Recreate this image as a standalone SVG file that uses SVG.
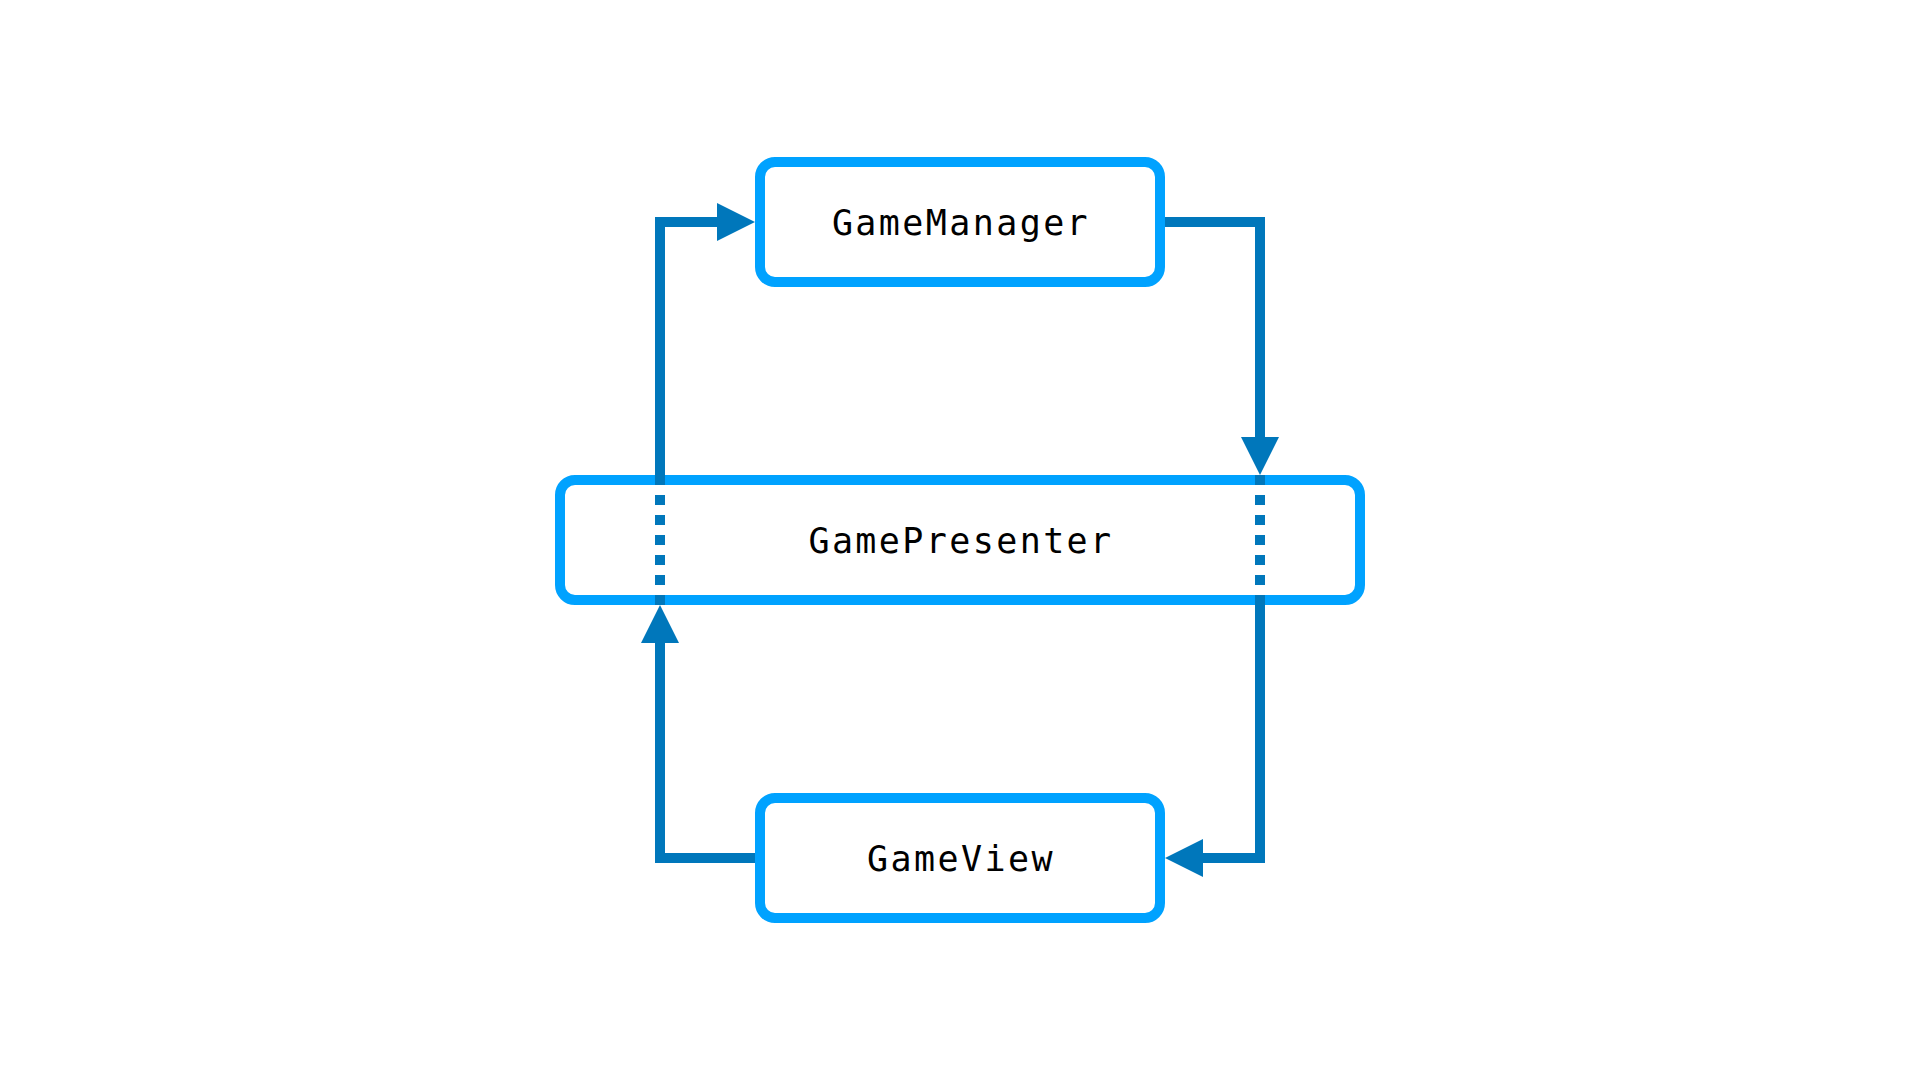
<svg xmlns="http://www.w3.org/2000/svg" width="1920" height="1080" viewBox="0 0 1920 1080">
  <style>
    .box { fill: #FFFFFF; stroke: #00A2FF; stroke-width: 10; }
    .label { font-family: "DejaVu Sans Mono", "Liberation Mono", monospace; font-size: 35px; letter-spacing: 2.4px; fill: #000000; text-anchor: middle; }
    .conn { fill: none; stroke: #0077BB; stroke-width: 10; stroke-linejoin: miter; stroke-linecap: butt; }
    .dots { fill: none; stroke: #0077BB; stroke-width: 10; stroke-dasharray: 10 10; }
  </style>
  <defs>
    <marker id="arrow" markerUnits="userSpaceOnUse" markerWidth="38" markerHeight="38" refX="0" refY="19" orient="auto" viewBox="0 0 38 38" overflow="visible">
      <path d="M0,0 L38,19 L0,38 Z" fill="#0077BB"/>
    </marker>
  </defs>
  <rect width="1920" height="1080" fill="#FFFFFF"/>

  <g id="GameManager">
    <rect class="box" x="760" y="162" width="400" height="120" rx="15" ry="15"/>
    <text class="label" x="961" y="234.8">GameManager</text>
  </g>
  <g id="GamePresenter">
    <rect class="box" x="560" y="480" width="800" height="120" rx="15" ry="15"/>
    <text class="label" x="961" y="552.8">GamePresenter</text>
  </g>
  <g id="GameView">
    <rect class="box" x="760" y="798" width="400" height="120" rx="15" ry="15"/>
    <text class="label" x="961" y="870.8">GameView</text>
  </g>

  <g id="connectors">
    <path class="conn" d="M1165,222 H1260 V437" marker-end="url(#arrow)"/>
    <path class="dots" d="M1260,475 V605"/>
    <path class="conn" d="M1260,605 V858 H1203" marker-end="url(#arrow)"/>
    <path class="conn" d="M755,858 H660 V643" marker-end="url(#arrow)"/>
    <path class="dots" d="M660,605 V475"/>
    <path class="conn" d="M660,475 V222 H717" marker-end="url(#arrow)"/>
  </g>
</svg>
